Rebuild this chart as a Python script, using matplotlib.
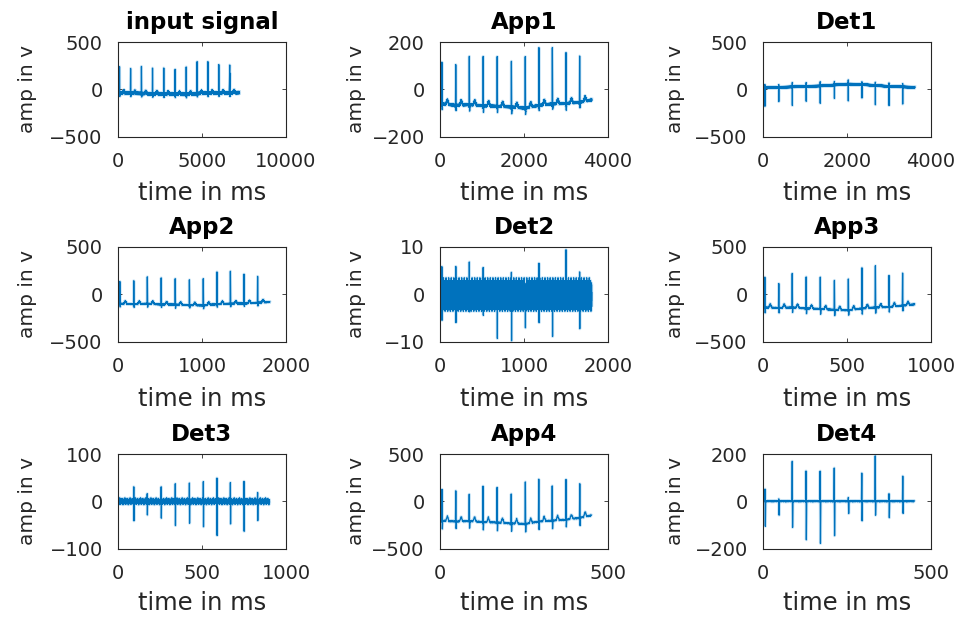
import numpy as np
import matplotlib
matplotlib.use("Agg")
import matplotlib.pyplot as plt

# ---------------- data ----------------
n_input = 7230                      # length of the input signal (samples)
beat_samples = [90, 750, 1395, 2055, 2725, 3400, 4060, 4710, 5350, 6000, 6650]

# approximation panels: R-peak (absolute) per beat, baseline per beat (+ end value)
input_peak = [232, 214, 250, 232, 232, 207, 232, 286, 286, 257, 250]
input_base = [-40, -42, -45, -48, -50, -52, -55, -45, -42, -40, -38, -35]
app1_peak = [117, 107, 136, 136, 136, 117, 136, 179, 179, 154, 143]
app1_base = [-62, -68, -65, -70, -72, -75, -80, -68, -62, -60, -55, -45]
app2_peak = [132, 139, 186, 168, 168, 150, 168, 232, 239, 211, 186]
app2_base = [-100, -105, -100, -108, -110, -115, -118, -105, -100, -98, -90, -82]
app3_peak = [186, 107, 214, 186, 186, 150, 157, 282, 304, 196, 229]
app3_base = [-140, -145, -140, -150, -155, -165, -170, -150, -140, -135, -120, -107]
app4_peak = [125, 118, 82, 154, 143, 75, 196, 225, 154, 236, 182]
app4_base = [-205, -215, -210, -220, -225, -235, -240, -215, -205, -195, -175, -150]

# S-wave dip and T-wave height (relative to baseline) per approximation panel
s_dip = {"input": -30, "app1": -25, "app2": -35, "app3": -55, "app4": -80}
t_amp = {"input": 25, "app1": 20, "app2": 30, "app3": 40, "app4": 50}

# detail panels
det1_pos = [40, 35, 40, 35, 40, 35, 40, 35, 40, 35, 40]
det1_neg = [-196, -154, -196, -154, -182, -136, -171, -146, -207, -196, -182]
det1_base = [15, 20, 25, 30, 35, 45, 55, 50, 40, 30, 25, 20]
det2_pos = [5.6, 4.2, 4.9, 3.5, 3.8, 5.6, 3.6, 5.6, 4.5, 8.7, 5.2]
det2_neg = [-8.4, -8.4, -7.2, -5.9, -7.2, -6.6, -5.9, -7.7, -6.3, -4.5, -4.9]
det3_pos = [8, 35, 17, 33, 35, 38, 40, 47, 35, 41, 21]
det3_neg = [-8, -45, -32, -43, -47, -43, -52, -68, -47, -58, -43]
det4_pos = [51, 13, 172, 126, 126, 140, 13, 116, 189, 34, 105]
det4_neg = [-103, -61, -113, -162, -176, -145, -50, -81, -57, -71, -50]

# fixed texture patterns (hand written) for the thick noisy look of the traces
jitter = [0.3, -0.8, 0.6, -0.2, 0.9, -0.6, 0.1, -1.0, 0.7, -0.4,
          0.5, -0.9, 0.2, -0.3, 1.0, -0.7, 0.4, -0.5, 0.8, -0.1]
jitter_rough = [0.4, -0.9, 0.7, -0.3, 1.0, -0.6, 0.2, -1.1, 0.8, -0.5,
                1.45, -0.8, 0.3, -0.4, 0.9, -1.35, 0.5, -0.6, 0.9, -0.2,
                0.6, -1.0, 0.1, -0.7, 1.2, -0.5, 0.4, -0.9, 0.7, -0.3, -1.5]

titles = ["input signal", "App1", "Det1", "App2", "Det2", "App3", "Det3", "App4", "Det4"]
xlims = [10000, 4000, 4000, 2000, 2000, 1000, 1000, 500, 500]
xtick_sets = [[0, 5000, 10000], [0, 2000, 4000], [0, 2000, 4000],
              [0, 1000, 2000], [0, 1000, 2000], [0, 500, 1000],
              [0, 500, 1000], [0, 500], [0, 500]]
ylims = [500, 200, 500, 500, 10, 500, 100, 500, 200]

# ---------------- build traces ----------------
def texture(n, amp, pattern=jitter):
    return amp * np.resize(np.array(pattern), n)


def approx(level, peak, base, key, jit):
    f = 2 ** level
    n = n_input // f
    x = np.arange(n)
    r = [int(round(b / f)) for b in beat_samples]
    sig = np.interp(x, r + [n - 1], base)
    qrs = [-24, -12, 0, 14, 30]
    tw = [180, 260, 340]
    for i, ri in enumerate(r):
        offs = [int(np.sign(o) * max(1, round(abs(o) / f))) if o != 0 else 0 for o in qrs]
        offs += [int(round(o / f)) for o in tw]
        rel = [0, -10, peak[i] - base[i], s_dip[key], 0, 0, t_amp[key], 0]
        pos = [ri + o for o in offs]
        sig = sig + np.interp(x, pos, rel, left=0, right=0)
    return x, sig + texture(n, jit)


def detail(level, pos_v, neg_v, base, gap, jit, pattern=jitter):
    f = 2 ** level
    n = n_input // f
    x = np.arange(n)
    r = [int(round(b / f)) for b in beat_samples]
    if base is None:
        sig = np.zeros(n)
    else:
        sig = np.interp(x, r + [n - 1], base)
    for i, ri in enumerate(r):
        pts = [ri - 1, ri, ri + gap, ri + gap + 1]
        rel = [0, pos_v[i], neg_v[i], 0]
        sig = sig + np.interp(x, pts, rel, left=0, right=0)
    return x, sig + texture(n, jit, pattern)


traces = [
    approx(0, input_peak, input_base, "input", 12),
    approx(1, app1_peak, app1_base, "app1", 4),
    detail(1, det1_pos, det1_neg, det1_base, 1, 8),
    approx(2, app2_peak, app2_base, "app2", 5),
    detail(2, det2_pos, det2_neg, None, 2, 2.4, jitter_rough),
    approx(3, app3_peak, app3_base, "app3", 6),
    detail(3, det3_pos, det3_neg, None, 1, 5, jitter_rough),
    approx(4, app4_peak, app4_base, "app4", 8),
    detail(4, det4_pos, det4_neg, None, 1, 3),
]

# ---------------- figure ----------------
W, H = 966, 622
fig = plt.figure(figsize=(W / 100, H / 100), dpi=100)
fig.patch.set_facecolor("white")
col_left = [118, 440, 763]
row_top = [42, 247, 454]
ax_w, ax_h = 168, 94.5
ylab_off = [-81, -74, -78]
xlab_off = [45, 45, 42]
line_c = "#0072BD"
dark = "#262626"

for k in range(9):
    r, c = divmod(k, 3)
    l, t = col_left[c], row_top[r]
    ax = fig.add_axes([l / W, 1 - (t + ax_h) / H, ax_w / W, ax_h / H])
    x, y = traces[k]
    ax.plot(x, y, color="#9fd0f0", lw=2.2, alpha=0.55, zorder=1)
    ax.plot(x, y, color=line_c, lw=0.9, zorder=2)
    ax.set_xlim(0, xlims[k])
    ax.set_ylim(-ylims[k], ylims[k])
    ax.set_xticks(xtick_sets[k])
    ax.set_yticks([-ylims[k], 0, ylims[k]])
    ax.tick_params(direction="in", length=3, width=0.6, top=True, right=True,
                   labelsize=14, colors=dark, pad=11)
    for s in ax.spines.values():
        s.set_color(dark)
        s.set_linewidth(0.8)
    ax.set_title(titles[k], fontsize=16.5, fontweight="bold", pad=9.5, color="black")
    ax.set_xlabel("time in ms", fontsize=17.5, color=dark)
    ax.set_ylabel("amp in v", fontsize=14.5, color=dark)
    ax.xaxis.set_label_coords(0.5, -xlab_off[r] / ax_h)
    ax.yaxis.set_label_coords(ylab_off[c] / ax_w, 0.5)

fig.savefig("out.png", dpi=100, facecolor="white")
